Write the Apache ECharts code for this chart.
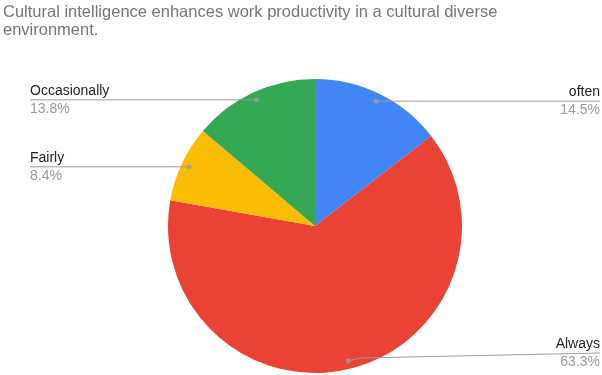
<!DOCTYPE html>
<html><head><meta charset="utf-8">
<script src="https://cdn.jsdelivr.net/npm/echarts@6/dist/echarts.min.js"></script>
<style>html,body{margin:0;padding:0;background:#fff}#c{width:602px;height:375px}</style>
</head><body><div id="c"></div>
<script>
var categories = ['often', 'Always', 'Fairly', 'Occasionally'];
var values = [14.5, 63.3, 8.4, 13.8];
var colors = ['#4285F4', '#EA4335', '#FBBC04', '#34A853'];
var titleText = 'Cultural intelligence enhances work productivity in a cultural diverse\nenvironment.';

var CX = 315, CY = 226, R = 147, RDOT = 139, LEFT = 30;
var total = values.reduce(function(a,b){return a+b;},0);
var dots = [], acc = 0;
values.forEach(function(v){ dots.push([RDOT, acc + v/2]); acc += v; });

var pieData = categories.map(function(c,i){ return {name:c, value:values[i], itemStyle:{color:colors[i]}}; });
var labelData = categories.map(function(c,i){ return {name:c, value:values[i]}; });
var FONT = 'Liberation Sans, Arial, sans-serif';

var chart = echarts.init(document.getElementById('c'), null, {renderer:'canvas'});
chart.setOption({
  animation:false,
  title:{text:titleText, left:3, top:3, padding:0,
    textStyle:{fontFamily:FONT, fontSize:16.5, fontWeight:'normal', color:'#757575', lineHeight:18}},
  polar:{center:[CX, CY], radius:R},
  angleAxis:{type:'value', min:0, max:total, startAngle:90, clockwise:true, show:false},
  radiusAxis:{type:'value', min:0, max:R, show:false},
  series:[
    {type:'pie', center:[CX, CY], radius:R, startAngle:90, clockwise:true,
      data:pieData, label:{show:false}, labelLine:{show:false}, silent:true, z:1},
    {type:'pie', left:LEFT, right:2, top:0, bottom:0, center:[CX-LEFT, CY], radius:RDOT, startAngle:90, clockwise:true,
      data:labelData, itemStyle:{color:'rgba(0,0,0,0)'}, silent:true, z:3,
      label:{show:true, position:'outside', alignTo:'edge', edgeDistance:0,
        formatter:function(p){ return '{n|'+p.name+'}\n{p|'+p.value.toFixed(1)+'%}'; },
        rich:{n:{fontFamily:FONT, fontSize:14, color:'#222', lineHeight:18},
              p:{fontFamily:FONT, fontSize:14, color:'#999', lineHeight:18}}},
      labelLine:{show:true, length:0, length2:10, lineStyle:{color:'#999', width:1}},
      labelLayout:function(params){
        var pts = params.labelLinePoints;
        if(!pts) return {};
        var r = params.labelRect;
        var np = pts.map(function(q){return [q[0],q[1]];});
        var last = np[np.length-1];
        var dy = params.dataIndex === 1 ? -5 : 0;
        if(last[0] < CX) last[0] = r.x; else last[0] = r.x + r.width;
        last[1] += dy;
        return {labelLinePoints: np, dy: dy};
      }
    },
    {type:'scatter', coordinateSystem:'polar', data:dots, symbolSize:5, itemStyle:{color:'#9e9e9e'}, silent:true, z:5}
  ]
});
</script></body></html>
